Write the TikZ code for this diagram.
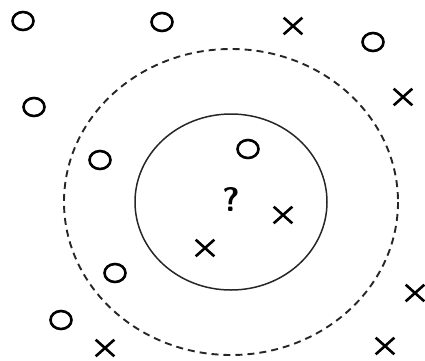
\documentclass[tikz,border=0pt]{standalone}
\usepackage{tikz}
\usetikzlibrary{shapes.geometric,shapes.misc}

\begin{document}
\begin{tikzpicture}[x=1pt,y=-1pt,
    ring/.style={draw,ellipse,line width=2.6pt,minimum width=21pt,minimum height=18pt,inner sep=0pt},
    cross/.style={draw,cross out,line width=2.6pt,minimum width=16pt,minimum height=14pt,inner sep=0pt},
    query/.style={font=\fontsize{34}{34}\selectfont\bfseries\sffamily}]
     \useasboundingbox (0,0) rectangle (425,360);
     % neighbourhoods
     \draw[black!85,line width=1.5pt] (231,202) ellipse [x radius=96, y radius=88];
     \draw[black!85,line width=1.9pt,dash pattern=on 7pt off 5pt] (231,202) ellipse [x radius=167, y radius=153];
     \node[query] (q) at (231,200) {?};
     % class o
     \foreach \px/\py [count=\i] in {23/21,162/22,373/42,34/107,100/160,248/149,115/273,61/320}
        \node[ring] (o\i) at (\px,\py) {};
     % class x
     \foreach \px/\py [count=\i] in {293/26,403/97,283/215,205/248,415/293,105/348,385/346}
        \node[cross] (x\i) at (\px,\py) {};
   \end{tikzpicture}
\end{document}
